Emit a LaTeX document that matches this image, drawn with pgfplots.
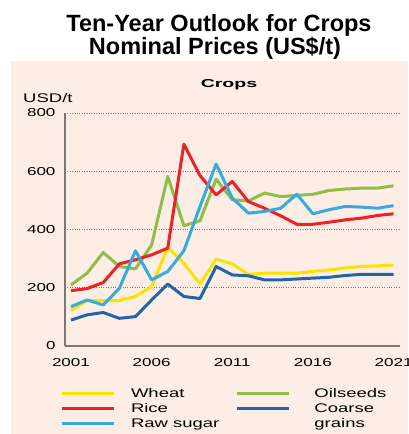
\documentclass[border=0pt]{standalone}
\usepackage{fontspec}
\setmainfont{Liberation Sans}[FakeStretch=1.48]
\newfontfamily\titlefont{Liberation Sans}
\newfontfamily\cropsfont{Liberation Sans}[FakeStretch=1.7]
\usepackage{pgfplots}
\pgfplotsset{compat=1.18}
\pgfplotsset{rightlegend/.style={legend image code/.code={\draw[##1, line width=3pt] (0pt,0pt) -- (52pt,0pt); \path (-14pt,0pt) (74pt,0pt);}}}
\definecolor{panel}{RGB}{253,237,228}
\definecolor{axisgray}{RGB}{120,120,120}
\definecolor{cwheat}{RGB}{248,228,0}
\definecolor{crice}{RGB}{233,35,40}
\definecolor{csugar}{RGB}{54,170,225}
\definecolor{coil}{RGB}{141,190,72}
\definecolor{ccoarse}{RGB}{32,100,170}
\begin{document}
\begin{tikzpicture}
\path[use as bounding box, fill=white] (0pt,0pt) rectangle (408pt,434pt);
\fill[panel] (11pt,0pt) rectangle (408pt,373pt);
\node[anchor=base, inner sep=0pt, font=\titlefont\bfseries\fontsize{23.5}{26}\selectfont] at (219pt,402pt) {Ten-Year Outlook for Crops};
\node[anchor=base, inner sep=0pt, font=\titlefont\bfseries\fontsize{23.5}{26}\selectfont] at (215pt,379pt) {Nominal Prices (US\$/t)};
\node[anchor=base, inner sep=0pt, font=\cropsfont\bfseries\fontsize{11.5}{13}\selectfont] at (229pt,346pt) {Crops};
\node[anchor=base west, inner sep=0pt, font=\fontsize{12.5}{14}\selectfont] at (23pt,331pt) {USD/t};
\begin{axis}[
  at={(65pt,88pt)}, anchor=south west,
  scale only axis, width=335pt, height=233pt,
  xmin=2000.63, xmax=2021.4, ymin=0, ymax=800,
  xtick={2001,2006,2011,2016,2021},
  ytick={0,200,400,600,800},
  axis x line*=bottom, axis y line*=left,
  axis line style={draw=axisgray, line width=1.2pt, -},
  major tick length=0pt,
  ymajorgrids,
  grid style={dotted, draw=gray, line width=0.7pt},
  /pgf/number format/.cd, 1000 sep={}, assume math mode=true, /pgfplots/.cd,
  tick label style={font=\fontsize{11.5}{13}\selectfont},
  yticklabel style={anchor=east, xshift=-6pt},
  xticklabel style={anchor=north, yshift=-9pt},
  every axis plot/.append style={line width=3pt, line join=round, no marks},
  legend columns=2,
  legend image code/.code={\draw[#1, line width=3pt] (0pt,0pt) -- (52pt,0pt); \path (-22pt,0pt) (66pt,0pt);},
  legend style={at={(-0.0806,-0.1717)}, anchor=north west, draw=none, fill=none,
    inner sep=0pt, outer sep=0pt, column sep=0pt, row sep=0pt,
    font=\fontsize{12.5}{14}\selectfont,
    cells={anchor=west, inner sep=0pt, text height=9.5pt, text depth=2.5pt}},
]
% Oilseeds
\addplot[coil, forget plot] coordinates {(2001,210)(2002,250)(2003,321)(2004,273)(2005,265)(2006,347)(2007,582)(2008,413)(2009,430)(2010,573)(2011,502)(2012,498)(2013,525)(2014,513)(2015,517)(2016,521)(2017,534)(2018,539)(2019,542)(2020,542)(2021,550)};
% Wheat
\addplot[cwheat, forget plot] coordinates {(2001,121)(2002,156)(2003,156)(2004,156)(2005,170)(2006,204)(2007,338)(2008,284)(2009,213)(2010,298)(2011,282)(2012,246)(2013,250)(2014,250)(2015,250)(2016,256)(2017,261)(2018,268)(2019,273)(2020,275)(2021,278)};
% Coarse grains
\addplot[ccoarse, forget plot] coordinates {(2001,89)(2002,107)(2003,115)(2004,95)(2005,101)(2006,158)(2007,213)(2008,170)(2009,163)(2010,273)(2011,244)(2012,241)(2013,227)(2014,227)(2015,230)(2016,233)(2017,236)(2018,242)(2019,246)(2020,246)(2021,246)};
% Rice
\addplot[crice, forget plot] coordinates {(2001,190)(2002,197)(2003,218)(2004,282)(2005,296)(2006,313)(2007,336)(2008,693)(2009,585)(2010,519)(2011,565)(2012,496)(2013,473)(2014,447)(2015,418)(2016,418)(2017,425)(2018,433)(2019,439)(2020,448)(2021,454)};
% Raw sugar
\addplot[csugar, forget plot] coordinates {(2001,135)(2002,158)(2003,141)(2004,198)(2005,327)(2006,227)(2007,256)(2008,327)(2009,479)(2010,625)(2011,508)(2012,456)(2013,462)(2014,473)(2015,521)(2016,454)(2017,468)(2018,479)(2019,477)(2020,473)(2021,482)};
\addlegendimage{cwheat}\addlegendentry{Wheat}
\addlegendimage{coil, rightlegend}\addlegendentry{Oilseeds}
\addlegendimage{crice}\addlegendentry{Rice}
\addlegendimage{ccoarse, rightlegend}\addlegendentry{Coarse}
\addlegendimage{csugar}\addlegendentry{Raw sugar}
\addlegendimage{empty legend}\addlegendentry{grains}
\end{axis}
\end{tikzpicture}
\end{document}
